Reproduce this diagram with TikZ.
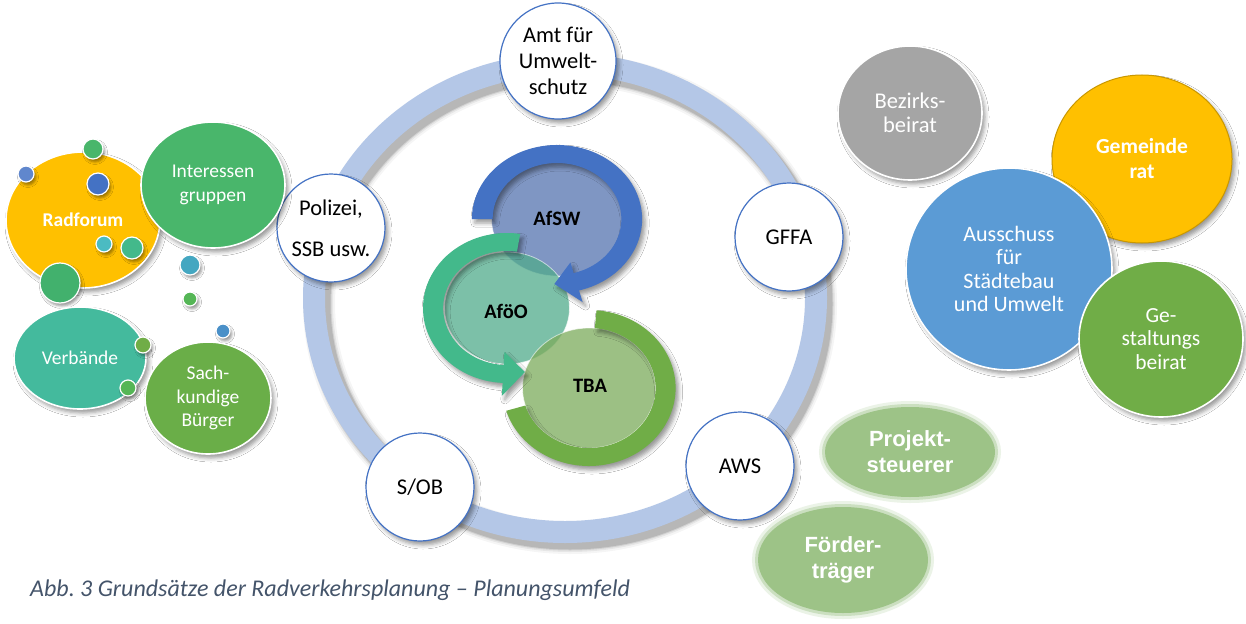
\documentclass[tikz,border=0pt]{standalone}
\usepackage{fontspec}
\setmainfont{Carlito}
\newfontfamily\arialf{Liberation Sans}
\usetikzlibrary{shapes.geometric,shadows,shadows.blur}
\newcommand\fsz[2]{\fontsize{#1}{#2}\selectfont}
\definecolor{ringblue}{HTML}{B4C7E7}
\definecolor{nodeblue}{HTML}{4472C4}
\definecolor{radyellow}{HTML}{FFC000}
\definecolor{intgreen}{HTML}{49B66B}
\definecolor{verbteal}{HTML}{44BA9D}
\definecolor{sachgreen}{HTML}{6AAE48}
\definecolor{bezgray}{HTML}{A5A5A5}
\definecolor{ausblue}{HTML}{5B9BD5}
\definecolor{gestgreen}{HTML}{70AD47}
\definecolor{softgreen}{HTML}{9DC387}
\definecolor{capcol}{HTML}{44546A}
\definecolor{afoogreen}{HTML}{43B98B}
\definecolor{tbagreen}{HTML}{70AD47}
\definecolor{afswdisk}{RGB}{85,116,176}
\definecolor{afoodisk}{RGB}{81,171,139}
\definecolor{tbadisk}{RGB}{124,171,91}
\definecolor{gemborder}{HTML}{C99700}
\definecolor{dotteal}{HTML}{4BBBC2}
\definecolor{dotteal2}{HTML}{44A7C1}
\definecolor{dotgreen}{HTML}{55B656}
\definecolor{dotblue}{HTML}{4A90C8}
\begin{document}
\begin{tikzpicture}[x=1pt,y=-1pt,
  shad/.style={blur shadow={shadow xshift=3pt, shadow yshift=-4pt, shadow blur radius=4pt}},
  ringnode/.style={circle, draw=nodeblue, line width=1.2pt, fill=white, minimum size=108,
    inner sep=0pt, align=center, font=\fsz{22.5}{26}, shad},
  bub/.style={ellipse, draw=white, line width=1.6pt, inner sep=0pt, align=center,
    text=white, shad},
  dot/.style={circle, draw=white, line width=1.2pt, inner sep=0pt,
    blur shadow={shadow xshift=2pt, shadow yshift=-3pt, shadow blur radius=2.5pt}},
  disk/.style={ellipse, draw=white, draw opacity=0.6, line width=0.8pt, fill opacity=0.75,
    text opacity=1, inner sep=0pt},
  disktext/.style={font=\bfseries\fsz{20.5}{24}},
  softbub/.style={ellipse, fill=softgreen, inner sep=0pt, align=center, text=white,
    font=\arialf\bfseries\fsz{22}{26},
    preaction={draw=softgreen, draw opacity=0.2, line width=12pt},
    preaction={draw=softgreen, draw opacity=0.4, line width=6pt}}
]
\useasboundingbox (0,0) rectangle (1246,623);
\fill[white] (0,0) rectangle (1246,623);

% ---------- big ring ----------
\foreach \w/\o in {32/0.04,28/0.06,25/0.09,23/0.12}{
  \draw[black, opacity=\o, line width=\w] (570,304) ellipse[x radius=251, y radius=234];
}
\draw[ringblue, line width=22] (565,298) ellipse[x radius=251, y radius=234];

% ---------- inner cycle: disks ----------
\node[disk, fill=afswdisk, minimum width=131, minimum height=114] (afsw) at (557,219) {};
\node[disk, fill=afoodisk, minimum width=125, minimum height=112] (afoo) at (507,308) {};
\node[disk, fill=tbadisk, minimum width=133, minimum height=120] (tba) at (589,388) {};

% ---------- inner cycle: bands ----------
\begin{scope}[shift={(589,388)}, xscale=1.11, yscale=-1]
  \fill[tbagreen, shad] (85:60) arc[start angle=85, end angle=-163, radius=60]
    -- (-163:78) arc[start angle=-163, end angle=85, radius=78] -- cycle;
\end{scope}
\begin{scope}[shift={(507,308)}, xscale=1.12, yscale=-1]
  \fill[afoogreen, shad] (81:57) arc[start angle=81, end angle=267, radius=57]
    -- (267:44) -- (284:66) -- (267:88) -- (267:75)
    arc[start angle=267, end angle=81, radius=75] -- cycle;
\end{scope}
\begin{scope}[shift={(557,219)}, xscale=1.15, yscale=-1]
  \fill[nodeblue, shad] (180:56) arc[start angle=180, end angle=-75, radius=56]
    -- (-75:45) -- (-92:65) -- (-75:86) -- (-75:74)
    arc[start angle=-75, end angle=180, radius=74] -- cycle;
\end{scope}
\node[disktext] (afswt) at (557,218) {AfSW};
\node[disktext] (afoot) at (506,311) {AföO};
\node[disktext] (tbat) at (590,386) {TBA};

% ---------- ring nodes ----------
\node[ringnode, minimum size=116] (amt) at (558,61) {Amt für\\Umwelt-\\schutz};
\node[ringnode, font=\fsz{22.5}{41}] (pol) at (331,228) {Polizei,\\SSB usw.};
\node[ringnode] (gffa) at (789,237) {GFFA};
\node[ringnode] (aws) at (740,466) {AWS};
\node[ringnode] (sob) at (420,487) {S/OB};

% ---------- left cluster ----------
\node[bub, fill=radyellow, minimum width=154, minimum height=136, font=\bfseries\fsz{19.5}{23}] (rad) at (83,220) {Radforum};
\node[bub, fill=intgreen, minimum width=144, minimum height=126, font=\fsz{19.5}{24}] (int) at (213,185) {Interessen\\gruppen};
\node[dot, fill=intgreen, minimum size=20] (g1) at (93,149) {};
\node[dot, fill=nodeblue!85!white, minimum size=16] (b1) at (26,174) {};
\node[dot, fill=nodeblue, minimum size=22] (b2) at (98,184) {};
\node[dot, fill=dotteal, minimum size=16] (t1) at (104,244) {};
\node[dot, fill=afoogreen, minimum size=22] (g2) at (132,248) {};
\node[dot, fill=intgreen!90!teal, minimum size=40] (g3) at (60,283) {};
\node[dot, fill=dotteal2, minimum size=20] (t2) at (190,265) {};
\node[dot, fill=dotgreen, minimum size=14] (g4) at (190,299) {};
\node[dot, fill=dotblue, minimum size=14] (b3) at (223,331) {};
\node[bub, fill=verbteal, minimum width=132, minimum height=102, font=\fsz{19.5}{23}] (verb) at (80,358) {Verbände};
\node[dot, fill=gestgreen, minimum size=16] (v1) at (143,345) {};
\node[dot, fill=dotgreen, minimum size=16] (v2) at (128,388) {};
\node[bub, fill=sachgreen, minimum width=126, minimum height=112, font=\fsz{19.5}{23.5}] (sach) at (208,398) {Sach-\\kundige\\Bürger};

% ---------- right cluster ----------
\node[bub, fill=bezgray, minimum width=144, minimum height=134, font=\fsz{22.5}{24}] (bez) at (910,113) {Bezirks-\\beirat};
\node[bub, fill=radyellow, draw=gemborder, line width=1pt, minimum width=180, minimum height=168, font=\bfseries\fsz{21.5}{25}] (gem) at (1142,159) {Gemeinde\\rat};
\node[bub, fill=ausblue, minimum width=206, minimum height=202, font=\fsz{22}{23.5}] (aus) at (1009,269) {Ausschuss\\für\\Städtebau\\und Umwelt};
\node[bub, fill=gestgreen, minimum width=164, minimum height=156, font=\fsz{21.5}{23.5}] (gest) at (1161,339) {Ge-\\staltungs\\beirat};

% ---------- soft bubbles ----------
\node[softbub, minimum width=170, minimum height=90] (proj) at (910,452) {Projekt-\\steuerer};
\node[softbub, minimum width=170, minimum height=106] (foerd) at (843,560) {Förder-\\träger};

% ---------- caption ----------
\node[anchor=west, inner sep=0pt, text=capcol, font=\itshape\fsz{24}{28}] (cap) at (30,590) {Abb.\ 3 Grundsätze der Radverkehrsplanung – Planungsumfeld};
\end{tikzpicture}
\end{document}
